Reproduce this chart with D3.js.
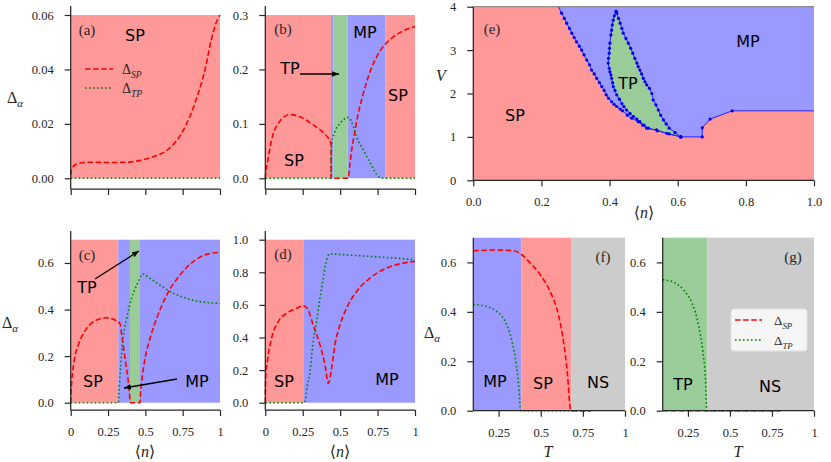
<!DOCTYPE html>
<html><head><meta charset="utf-8">
<script src="https://cdn.jsdelivr.net/npm/d3@7"></script>
<style>
body{margin:0;background:#fff;}
svg text{font-family:"Liberation Serif","DejaVu Serif",serif;fill:#262626;}
svg text.ph{font-family:"DejaVu Sans",sans-serif;font-size:16px;fill:#000;}
</style></head><body>
<svg id="c" width="831" height="462"></svg>
<script>
// ---------------- DATA ----------------
const nTicks = [0, 0.25, 0.5, 0.75, 1];
const nTickLabels = ["0", "0.25", "0.5", "0.75", "1"];
const TTicks = [0.25, 0.5, 0.75, 1];
const TTickLabels = ["0.25", "0.5", "0.75", "1"];
const aYTicks = [0, 0.02, 0.04, 0.06];
const aYTickLabels = ["0.00", "0.02", "0.04", "0.06"];
const bYTicks = [0, 0.1, 0.2, 0.3];
const bYTickLabels = ["0.0", "0.1", "0.2", "0.3"];
const cYTicks = [0, 0.2, 0.4, 0.6];
const cYTickLabels = ["0.0", "0.2", "0.4", "0.6"];
const dYTicks = [0, 0.2, 0.4, 0.6, 0.8, 1.0];
const dYTickLabels = ["0.0", "0.2", "0.4", "0.6", "0.8", "1.0"];
const fgYTicks = [0, 0.2, 0.4, 0.6];
const fgYTickLabels = ["0.0", "0.2", "0.4", "0.6"];
const eXTicks = [0, 0.2, 0.4, 0.6, 0.8, 1.0];
const eXTickLabels = ["0.0", "0.2", "0.4", "0.6", "0.8", "1.0"];
const eYTicks = [0, 1, 2, 3, 4];
const eYTickLabels = ["0", "1", "2", "3", "4"];

// phase regions [start, end, phase]
const aRegions = [[0, 1, "SP"]];
const bRegions = [[0, 0.439, "SP"], [0.439, 0.454, "MP"], [0.454, 0.55, "TP"], [0.55, 0.804, "MP"], [0.804, 1, "SP"]];
const cRegions = [[0, 0.319, "SP"], [0.319, 0.397, "MP"], [0.397, 0.464, "TP"], [0.464, 1, "MP"]];
const dRegions = [[0, 0.254, "SP"], [0.254, 1, "MP"]];
const fRegions = [[0.1, 0.384, "MP"], [0.384, 0.682, "SP"], [0.682, 1, "NS"]];
const gRegions = [[0.1, 0.366, "TP"], [0.366, 1, "NS"]];

// (a)
const aSPn = [0, 0.005, 0.015, 0.03, 0.06, 0.1, 0.15, 0.26, 0.375, 0.45, 0.52, 0.6, 0.65, 0.7, 0.75, 0.8, 0.85, 0.9, 0.94, 0.97, 1.0];
const aSPv = [0.0012, 0.003, 0.0042, 0.005, 0.0055, 0.0058, 0.0059, 0.0058, 0.0059, 0.0064, 0.0074, 0.0089, 0.0105, 0.0132, 0.0172, 0.023, 0.0305, 0.04, 0.0505, 0.0565, 0.06];
const aTPn = [0, 1];
const aTPv = [0, 0];
// (b)
const bSPn = [0, 0.004, 0.015, 0.04, 0.087, 0.165, 0.23, 0.32, 0.39, 0.439, 0.4401, 0.5, 0.553, 0.566, 0.577, 0.588, 0.621, 0.655, 0.7, 0.744, 0.788, 0.855, 0.922, 1];
const bSPv = [0, 0.012, 0.03, 0.068, 0.101, 0.117, 0.113, 0.098, 0.083, 0.064, 0, 0, 0, 0.028, 0.052, 0.07, 0.119, 0.156, 0.196, 0.223, 0.242, 0.26, 0.271, 0.279];
const bTPn = [0, 0.439, 0.4401, 0.443, 0.465, 0.5, 0.555, 0.588, 0.61, 0.655, 0.71, 0.755, 0.78, 1];
const bTPv = [0, 0, 0.03, 0.064, 0.086, 0.101, 0.112, 0.095, 0.076, 0.052, 0.024, 0.003, 0, 0];
// (c)
const cSPn = [0, 0.003, 0.007, 0.022, 0.051, 0.107, 0.174, 0.241, 0.297, 0.33, 0.342, 0.364, 0.386, 0.402, 0.43, 0.464, 0.468, 0.475, 0.498, 0.531, 0.576, 0.643, 0.732, 0.821, 0.911, 1];
const cSPv = [0, 0.05, 0.09, 0.176, 0.248, 0.319, 0.355, 0.365, 0.355, 0.34, 0.29, 0.19, 0.09, 0, 0, 0, 0.045, 0.09, 0.19, 0.276, 0.362, 0.462, 0.548, 0.606, 0.637, 0.646];
const cTPn = [0, 0.319, 0.322, 0.335, 0.348, 0.375, 0.408, 0.442, 0.475, 0.482, 0.531, 0.598, 0.688, 0.777, 0.866, 1];
const cTPv = [0, 0, 0.03, 0.162, 0.262, 0.362, 0.448, 0.505, 0.548, 0.553, 0.534, 0.505, 0.47, 0.448, 0.434, 0.427];
// (d)
const dSPn = [0, 0.002, 0.016, 0.042, 0.087, 0.143, 0.209, 0.254, 0.28, 0.32, 0.365, 0.399, 0.421, 0.443, 0.465, 0.499, 0.543, 0.61, 0.699, 0.81, 0.9, 1];
const dSPv = [0, 0.15, 0.27, 0.395, 0.498, 0.549, 0.58, 0.594, 0.58, 0.477, 0.355, 0.23, 0.119, 0.211, 0.355, 0.477, 0.58, 0.682, 0.764, 0.826, 0.852, 0.867];
const dTPn = [0, 0.262, 0.28, 0.3, 0.32, 0.343, 0.365, 0.39, 0.405, 0.428, 0.588, 0.81, 1];
const dTPv = [0, 0, 0.1, 0.2, 0.379, 0.5, 0.64, 0.78, 0.857, 0.912, 0.904, 0.891, 0.877];
// (f)
const fSPT = [0.1, 0.24, 0.339, 0.388, 0.438, 0.497, 0.556, 0.605, 0.635, 0.659, 0.675, 0.68, 0.8];
const fSPv = [0.647, 0.65, 0.647, 0.631, 0.597, 0.55, 0.482, 0.388, 0.28, 0.145, 0.01, 0, 0];
const fTPT = [0.1, 0.178, 0.24, 0.29, 0.33, 0.355, 0.369, 0.379, 0.382, 0.8];
const fTPv = [0.43, 0.422, 0.401, 0.36, 0.28, 0.185, 0.104, 0.01, 0, 0];
// (g)
const gSPT = [0.1, 0.8];
const gSPv = [0, 0];
const gTPT = [0.1, 0.164, 0.224, 0.274, 0.313, 0.339, 0.353, 0.363, 0.8];
const gTPv = [0.53, 0.52, 0.489, 0.435, 0.347, 0.239, 0.145, 0, 0];
// (e) phase diagram boundaries
const eSPn = [0.25, 0.259, 0.267, 0.274, 0.282, 0.289, 0.296, 0.303, 0.311, 0.318, 0.325, 0.333, 0.341, 0.347, 0.355, 0.362, 0.37, 0.377, 0.384, 0.39, 0.397, 0.406, 0.413, 0.421, 0.431, 0.438, 0.452, 0.465, 0.484, 0.497, 0.509, 0.538, 0.568, 0.609];
const eSPv = [4.0, 3.85, 3.73, 3.62, 3.5, 3.39, 3.29, 3.19, 3.09, 3.0, 2.89, 2.77, 2.66, 2.54, 2.45, 2.35, 2.25, 2.16, 2.07, 1.97, 1.89, 1.81, 1.75, 1.7, 1.64, 1.6, 1.5, 1.43, 1.35, 1.27, 1.2, 1.16, 1.08, 1.0];
const eTPLn = [0.419, 0.414, 0.411, 0.408, 0.406, 0.404, 0.401, 0.4, 0.399, 0.397, 0.396, 0.399, 0.401, 0.404, 0.406, 0.409, 0.411, 0.416, 0.421, 0.429, 0.436, 0.442, 0.45, 0.46, 0.47, 0.48, 0.489, 0.501, 0.514, 0.54, 0.575, 0.609];
const eTPLv = [3.89, 3.79, 3.69, 3.58, 3.46, 3.35, 3.16, 3.04, 2.93, 2.81, 2.7, 2.58, 2.5, 2.43, 2.35, 2.25, 2.16, 2.07, 1.97, 1.87, 1.77, 1.7, 1.62, 1.54, 1.47, 1.41, 1.35, 1.27, 1.2, 1.14, 1.07, 1.0];
const eTPRn = [0.419, 0.421, 0.426, 0.431, 0.436, 0.44, 0.448, 0.455, 0.462, 0.468, 0.474, 0.48, 0.484, 0.489, 0.494, 0.499, 0.504, 0.509, 0.517, 0.524, 0.528, 0.536, 0.543, 0.55, 0.558, 0.566, 0.575, 0.592, 0.609];
const eTPRv = [3.89, 3.85, 3.73, 3.62, 3.5, 3.39, 3.27, 3.16, 3.04, 2.93, 2.81, 2.7, 2.62, 2.54, 2.45, 2.35, 2.27, 2.2, 2.12, 2.0, 1.85, 1.74, 1.62, 1.5, 1.39, 1.3, 1.2, 1.1, 1.0];
const eMPn = [0.609, 0.672, 0.672, 0.695, 0.76, 1.0];
const eMPv = [1.0, 1.0, 1.21, 1.41, 1.6, 1.6];

// ---------------- DRAW ----------------
const COL = {SP: "#ff9999", MP: "#9999ff", TP: "#99cc99", NS: "#cccccc"};
const svg = d3.select("#c");
const zip = (a, b) => a.map((v, i) => [v, b[i]]);

const defs = svg.append("defs");
defs.append("marker").attr("id", "ah").attr("viewBox", "0 0 10 10")
  .attr("refX", 10).attr("refY", 5).attr("markerWidth", 7).attr("markerHeight", 7)
  .attr("markerUnits", "userSpaceOnUse").attr("orient", "auto")
  .append("path").attr("d", "M0,1 L10,5 L0,9 Z").attr("fill", "#000");

function styleAxis(g) {
  g.select(".domain").remove();
  g.selectAll(".tick line").attr("stroke", "#262626").attr("stroke-width", 1.2);
  g.selectAll(".tick text").attr("font-size", 12.5).attr("fill", "#262626")
    .attr("font-family", "'Liberation Serif','DejaVu Serif',serif");
}

function panel(p) {
  const x = d3.scaleLinear().domain(p.xd).range([p.x0, p.x1]);
  const y = d3.scaleLinear().domain([0, p.yMax]).range([p.yBase, p.yTop]);
  const g = svg.append("g");
  g.selectAll("rect.reg").data(p.regions).join("rect")
    .attr("x", d => x(d[0])).attr("width", d => x(d[1]) - x(d[0]))
    .attr("y", y(p.yMax)).attr("height", y(0) - y(p.yMax))
    .attr("fill", d => COL[d[2]]);
  const line = d3.line().x(d => x(d[0])).y(d => y(d[1])).curve(d3.curveMonotoneX);
  (p.curves || []).forEach(c => {
    g.append("path").attr("d", line(zip(c.x, c.y))).attr("fill", "none")
      .attr("stroke", c.t === "SP" ? "#ff0000" : "#008000")
      .attr("stroke-width", 1.6)
      .attr("stroke-dasharray", c.t === "SP" ? "5.5,2.6" : "1.6,2.4");
  });
  // axes
  const ya = d3.axisLeft(y).tickValues(p.yTicks).tickFormat((d, i) => p.yTickLabels[i])
    .tickSize(6).tickPadding(11);
  g.append("g").attr("transform", `translate(${p.x0},0)`).call(ya).call(styleAxis);
  const xa = d3.axisBottom(x).tickValues(p.xTicks)
    .tickFormat((d, i) => p.xTickLabels ? p.xTickLabels[i] : "")
    .tickSize(6).tickPadding(11);
  g.append("g").attr("transform", `translate(0,${p.spBot})`).call(xa).call(styleAxis);
  g.append("line").attr("x1", p.x0).attr("x2", p.x0).attr("y1", p.spTop).attr("y2", p.spBot)
    .attr("stroke", "#262626").attr("stroke-width", 1.25);
  g.append("line").attr("x1", p.x0).attr("x2", p.x1).attr("y1", p.spBot).attr("y2", p.spBot)
    .attr("stroke", "#262626").attr("stroke-width", 1.25);
  return {x, y, g};
}

panel({x0: 70.7, x1: 220, xd: [0, 1], yBase: 178.3, yTop: 15, yMax: 0.06, spTop: 6, spBot: 189,
  yTicks: aYTicks, yTickLabels: aYTickLabels, xTicks: nTicks, xTickLabels: null, regions: aRegions,
  curves: [{x: aSPn, y: aSPv, t: "SP"}, {x: aTPn, y: aTPv, t: "TP"}]});
panel({x0: 265.3, x1: 415, xd: [0, 1], yBase: 178.3, yTop: 15, yMax: 0.3, spTop: 6, spBot: 189,
  yTicks: bYTicks, yTickLabels: bYTickLabels, xTicks: nTicks, xTickLabels: null, regions: bRegions,
  curves: [{x: bSPn, y: bSPv, t: "SP"}, {x: bTPn, y: bTPv, t: "TP"}]});
panel({x0: 70.7, x1: 220, xd: [0, 1], yBase: 402.7, yTop: 239.7, yMax: 0.7, spTop: 231, spBot: 410,
  yTicks: cYTicks, yTickLabels: cYTickLabels, xTicks: nTicks, xTickLabels: nTickLabels, regions: cRegions,
  curves: [{x: cSPn, y: cSPv, t: "SP"}, {x: cTPn, y: cTPv, t: "TP"}]});
panel({x0: 265.3, x1: 415, xd: [0, 1], yBase: 402.7, yTop: 239.7, yMax: 1.0, spTop: 231, spBot: 410,
  yTicks: dYTicks, yTickLabels: dYTickLabels, xTicks: nTicks, xTickLabels: nTickLabels, regions: dRegions,
  curves: [{x: dSPn, y: dSPv, t: "SP"}, {x: dTPn, y: dTPv, t: "TP"}]});
panel({x0: 473.3, x1: 625, xd: [0.1, 1], yBase: 410.7, yTop: 237.7, yMax: 0.7, spTop: 237.7, spBot: 410.7,
  yTicks: fgYTicks, yTickLabels: fgYTickLabels, xTicks: TTicks, xTickLabels: TTickLabels, regions: fRegions,
  curves: [{x: fSPT, y: fSPv, t: "SP"}, {x: fTPT, y: fTPv, t: "TP"}]});
panel({x0: 662.7, x1: 814, xd: [0.1, 1], yBase: 410.7, yTop: 237.7, yMax: 0.7, spTop: 237.7, spBot: 410.7,
  yTicks: fgYTicks, yTickLabels: fgYTickLabels, xTicks: TTicks, xTickLabels: TTickLabels, regions: gRegions,
  curves: [{x: gSPT, y: gSPv, t: "SP"}, {x: gTPT, y: gTPv, t: "TP"}]});

// ----- panel (e)
(function () {
  const x = d3.scaleLinear().domain([0, 1]).range([473.3, 814]);
  const y = d3.scaleLinear().domain([0, 4]).range([180.3, 6.7]);
  const g = svg.append("g");
  g.append("rect").attr("x", x(0)).attr("y", y(4)).attr("width", x(1) - x(0)).attr("height", y(0) - y(4)).attr("fill", COL.SP);
  const sp = zip(eSPn, eSPv), mp = zip(eMPn, eMPv);
  const mpPoly = sp.concat(mp.slice(1)).concat([[1, 4], [0.25, 4]]);
  const lin = d3.line().x(d => x(d[0])).y(d => y(d[1]));
  g.append("path").attr("d", lin(mpPoly) + "Z").attr("fill", COL.MP);
  const tpL = zip(eTPLn, eTPLv), tpR = zip(eTPRn, eTPRv);
  g.append("path").attr("d", lin(tpL.concat(tpR.slice().reverse())) + "Z").attr("fill", COL.TP);
  [sp, mp, tpL, tpR].forEach((pts, k) => {
    g.append("path").attr("d", lin(pts)).attr("fill", "none").attr("stroke", "#2222ff").attr("stroke-width", 1);
    g.selectAll(null).data(pts.filter(d => d[0] < 1 && d[1] < 4)).join("circle")
      .attr("cx", d => x(d[0])).attr("cy", d => y(d[1])).attr("r", 1.6).attr("fill", "#0000ee");
  });
  g.append("line").attr("x1", x(0)).attr("x2", x(1)).attr("y1", y(4)).attr("y2", y(4)).attr("stroke", "#7a7a7a").attr("stroke-width", 1);
  const ya = d3.axisLeft(y).tickValues(eYTicks).tickFormat((d, i) => eYTickLabels[i]).tickSize(6).tickPadding(11);
  g.append("g").attr("transform", `translate(${x(0)},0)`).call(ya).call(styleAxis);
  const xa = d3.axisBottom(x).tickValues(eXTicks).tickFormat((d, i) => eXTickLabels[i]).tickSize(6).tickPadding(11);
  g.append("g").attr("transform", `translate(0,${y(0)})`).call(xa).call(styleAxis);
  g.append("line").attr("x1", x(0)).attr("x2", x(0)).attr("y1", y(4)).attr("y2", y(0)).attr("stroke", "#262626").attr("stroke-width", 1.25);
  g.append("line").attr("x1", x(0)).attr("x2", x(1)).attr("y1", y(0)).attr("y2", y(0)).attr("stroke", "#262626").attr("stroke-width", 1.25);
})();

// ----- annotations
function ph(t, cx, cy) {
  svg.append("text").attr("class", "ph").attr("x", cx).attr("y", cy)
    .attr("text-anchor", "middle").attr("dominant-baseline", "central").text(t);
}
function lab(t, cx, cy) {
  svg.append("text").attr("x", cx).attr("y", cy).attr("font-size", 15).attr("fill", "#333")
    .attr("text-anchor", "middle").attr("dominant-baseline", "central").text(t);
}
function arrow(x1, y1, x2, y2) {
  svg.append("line").attr("x1", x1).attr("y1", y1).attr("x2", x2).attr("y2", y2)
    .attr("stroke", "#000").attr("stroke-width", 1.3).attr("marker-end", "url(#ah)");
}
function delta(x, y, sub, italic, size) {
  const t = svg.append("text").attr("x", x).attr("y", y).attr("font-size", size || 15).attr("fill", "#111");
  t.append("tspan").text("Δ");
  t.append("tspan").attr("dy", 4).attr("font-size", (size || 15) * 0.68).attr("font-style", italic ? "italic" : "normal").text(sub);
}
function italicLabel(t, cx, by) {
  svg.append("text").attr("x", cx).attr("y", by).attr("font-size", 16).attr("font-style", "italic")
    .attr("text-anchor", "middle").attr("fill", "#111").text(t);
}
function nLabel(cx, by) {
  const t = svg.append("text").attr("x", cx).attr("y", by).attr("font-size", 16)
    .attr("text-anchor", "middle").attr("fill", "#111");
  t.append("tspan").text("⟨");
  t.append("tspan").attr("font-style", "italic").text("n");
  t.append("tspan").text("⟩");
}

// (a)
lab("(a)", 87, 30); ph("SP", 135, 35);
svg.append("line").attr("x1", 85).attr("x2", 113).attr("y1", 69).attr("y2", 69).attr("stroke", "#ff0000").attr("stroke-width", 1.6).attr("stroke-dasharray", "5.5,2.6");
svg.append("line").attr("x1", 85).attr("x2", 113).attr("y1", 88).attr("y2", 88).attr("stroke", "#008000").attr("stroke-width", 1.6).attr("stroke-dasharray", "1.6,2.4");
delta(122, 74, "SP", true, 14);
delta(122, 93, "TP", true, 14);
// (b)
lab("(b)", 283, 29); ph("MP", 365, 32); ph("TP", 290, 68); arrow(300, 74, 339, 74);
ph("SP", 398, 95); ph("SP", 294, 160);
// (c)
lab("(c)", 87, 255); ph("TP", 87, 287); arrow(95, 279, 139, 251);
ph("SP", 93, 381); ph("MP", 197, 381); arrow(177, 379, 124, 388);
// (d)
lab("(d)", 283, 254); ph("SP", 284, 381); ph("MP", 387, 379);
// (e)
lab("(e)", 492, 29); ph("MP", 748, 41); ph("TP", 628, 83); ph("SP", 515, 115);
// (f)
lab("(f)", 603, 257); ph("MP", 495, 381); ph("SP", 543, 383); ph("NS", 598, 382);
// (g)
lab("(g)", 793, 257); ph("TP", 683, 384); ph("NS", 770, 386);
svg.append("rect").attr("x", 731).attr("y", 309).attr("width", 76).attr("height", 42).attr("rx", 3)
  .attr("fill", "#f5f5f5").attr("stroke", "#e2e2e2");
svg.append("line").attr("x1", 735).attr("x2", 762).attr("y1", 320).attr("y2", 320).attr("stroke", "#ff0000").attr("stroke-width", 1.6).attr("stroke-dasharray", "5.5,2.6");
svg.append("line").attr("x1", 735).attr("x2", 762).attr("y1", 340).attr("y2", 340).attr("stroke", "#008000").attr("stroke-width", 1.6).attr("stroke-dasharray", "1.6,2.4");
delta(774, 325, "SP", true, 13);
delta(774, 345, "TP", true, 13);

// axis titles
delta(7, 103, "α", true, 16);
delta(2, 328, "α", true, 16);
delta(424, 338, "α", true, 16);
italicLabel("V", 441, 81);
nLabel(145, 457); nLabel(340, 457); nLabel(644, 218);
italicLabel("T", 548, 457); italicLabel("T", 738, 457);
</script>
</body></html>
